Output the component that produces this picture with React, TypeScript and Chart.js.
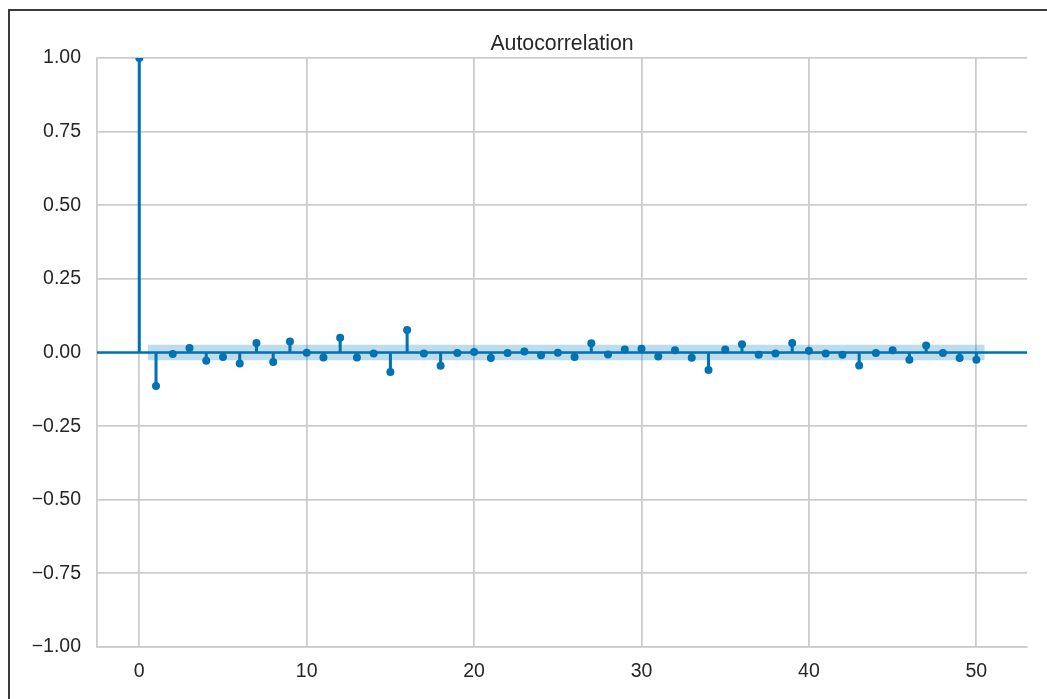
import React, { useEffect, useRef } from "react";
import { Chart, registerables } from "chart.js";

Chart.register(...registerables);

const LAGS = [0, 1, 2, 3, 4, 5, 6, 7, 8, 9, 10, 11, 12, 13, 14, 15, 16, 17, 18, 19, 20, 21, 22, 23, 24, 25, 26, 27, 28, 29, 30, 31, 32, 33, 34, 35, 36, 37, 38, 39, 40, 41, 42, 43, 44, 45, 46, 47, 48, 49, 50];
const ACF = [1.0, -0.114, -0.005, 0.015, -0.028, -0.015, -0.037, 0.032, -0.032, 0.037, -0.001, -0.017, 0.05, -0.017, -0.003, -0.066, 0.076, -0.003, -0.045, -0.002, 0.002, -0.019, -0.002, 0.003, -0.009, -0.001, -0.015, 0.031, -0.007, 0.01, 0.013, -0.014, 0.008, -0.018, -0.059, 0.01, 0.028, -0.008, -0.003, 0.032, 0.006, -0.003, -0.008, -0.044, -0.002, 0.008, -0.025, 0.024, -0.002, -0.019, -0.025];
const BAND_X = [0.5, 50.5];
const BAND_HALF = [0.0265, 0.0265];
const X_TICKS = [0, 10, 20, 30, 40, 50];
const Y_TICKS = [-1, -0.75, -0.5, -0.25, 0, 0.25, 0.5, 0.75, 1];
const X_RANGE = [-2.525, 53.025];
const Y_RANGE = [-1, 1];
const TITLE = "Autocorrelation";

const BLUE = "#0173b2";
const GRID = "#cccccc";
const TEXT = "#262626";
const FONT = "'Liberation Sans', Arial, sans-serif";

const framePlugin = {
  id: "frame",
  beforeDraw(chart: any) {
    const ctx = chart.ctx;
    ctx.save();
    ctx.fillStyle = "#ffffff";
    ctx.fillRect(0, 0, chart.width, chart.height);
    ctx.fillStyle = "#3a3a3a";
    ctx.fillRect(8, 9, 2, chart.height - 9);
    ctx.fillRect(8, 9, chart.width - 8, 2);
    ctx.restore();
  },
  afterDraw(chart: any) {
    const ctx = chart.ctx;
    const a = chart.chartArea;
    ctx.save();
    ctx.fillStyle = TEXT;
    ctx.font = `21.3px ${FONT}`;
    ctx.textAlign = "center";
    ctx.textBaseline = "alphabetic";
    ctx.fillText(TITLE, (a.left + a.right) / 2, a.top - 8);
    ctx.restore();
  },
};

export default function App() {
  const ref = useRef<HTMLCanvasElement | null>(null);

  useEffect(() => {
    if (!ref.current) return;
    const stems = LAGS.map((x, i) => ({ x, y: ACF[i] }));
    const chart = new Chart(ref.current, {
      type: "bar",
      data: {
        datasets: [
          {
            type: "line",
            data: BAND_X.map((x, i) => ({ x, y: BAND_HALF[i] })),
            borderColor: "transparent",
            borderWidth: 0,
            pointRadius: 0,
            fill: false,
            order: 0,
          } as any,
          {
            type: "line",
            data: BAND_X.map((x, i) => ({ x, y: -BAND_HALF[i] })),
            borderColor: "transparent",
            borderWidth: 0,
            pointRadius: 0,
            fill: "-1",
            backgroundColor: "rgba(1,115,178,0.25)",
            order: 0,
          } as any,
          {
            type: "line",
            data: stems,
            showLine: false,
            pointRadius: 4,
            pointBackgroundColor: BLUE,
            pointBorderWidth: 0,
            order: 1,
          } as any,
          {
            type: "bar",
            data: stems,
            backgroundColor: BLUE,
            borderWidth: 0,
            barThickness: 2.4,
            order: 2,
          } as any,
          {
            type: "line",
            data: [
              { x: X_RANGE[0], y: 0 },
              { x: X_RANGE[1], y: 0 },
            ],
            borderColor: BLUE,
            borderWidth: 2.4,
            pointRadius: 0,
            fill: false,
            order: 3,
          } as any,
        ],
      },
      plugins: [framePlugin],
      options: {
        animation: false,
        responsive: false,
        devicePixelRatio: 1,
        events: [],
        layout: { padding: { top: 58, right: 20, left: 0, bottom: 0 } },
        plugins: {
          legend: { display: false },
          tooltip: { enabled: false },
          title: { display: false },
        },
        scales: {
          x: {
            type: "linear",
            min: X_RANGE[0],
            max: X_RANGE[1],
            offset: false,
            grid: { color: GRID, lineWidth: 1.8, drawTicks: false, offset: false },
            border: { display: true, color: GRID, width: 1.8 },
            ticks: {
              padding: 13,
              color: TEXT,
              font: { family: FONT, size: 19.5 },
              maxRotation: 0,
              autoSkip: false,
              callback: (v: any) => String(v),
            },
            afterBuildTicks: (s: any) => {
              s.ticks = X_TICKS.map((value) => ({ value }));
            },
            afterFit: (s: any) => {
              s.height = 52;
            },
          } as any,
          y: {
            type: "linear",
            min: Y_RANGE[0],
            max: Y_RANGE[1],
            grid: { color: GRID, lineWidth: 1.8, drawTicks: false },
            border: { display: true, color: GRID, width: 1.8 },
            ticks: {
              padding: 16,
              color: TEXT,
              font: { family: FONT, size: 19.5 },
              autoSkip: false,
              callback: (v: any) => Number(v).toFixed(2).replace("-", "\u2212"),
            },
            afterBuildTicks: (s: any) => {
              s.ticks = Y_TICKS.map((value) => ({ value }));
            },
            afterFit: (s: any) => {
              s.width = 97;
            },
          } as any,
        },
      },
    });
    return () => chart.destroy();
  }, []);

  return (
    <div style={{ position: "fixed", left: 0, top: 0, width: 1047, height: 699, overflow: "hidden" }}>
      <canvas ref={ref} width={1047} height={699} style={{ display: "block" }} />
    </div>
  );
}
